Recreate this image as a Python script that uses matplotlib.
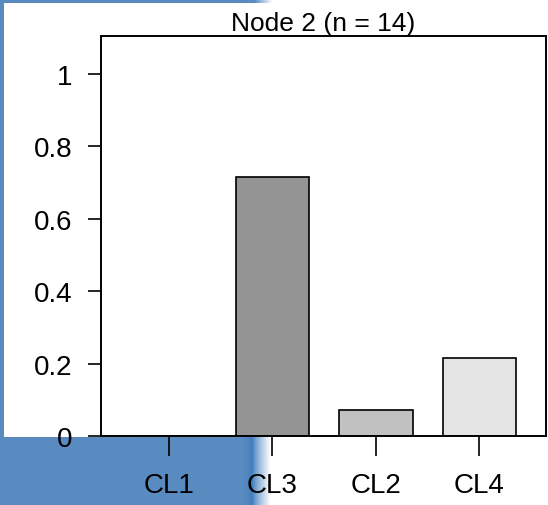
"""
Terminal node bar chart: class proportions in node 2 of a classification tree.
"""

import numpy as np
import matplotlib
matplotlib.use("Agg")
import matplotlib.pyplot as plt
import matplotlib.transforms as mtransforms


# Class proportions in the node (10, 1, 3 of 14 observations)
classes = ["CL1", "CL3", "CL2", "CL4"]
proportions = [0 / 14, 10 / 14, 1 / 14, 3 / 14]
bar_colors = ["#4d4d4d", "#949494", "#c1c1c1", "#e4e4e4"]
y_ticks = [0, 0.2, 0.4, 0.6, 0.8, 1]
y_tick_labels = ["0", "0.2", "0.4", "0.6", "0.8", "1"]
node_title = "Node 2 (n = 14)"

W, H = 548, 505


def slide_background():
    """Blue slide border showing around the pasted plot."""
    img = np.ones((H, W, 3))
    blue = np.array([0x5a, 0x8b, 0xc0]) / 255.0
    deep = np.array([0x42, 0x7f, 0xbd]) / 255.0
    white = np.ones(3)

    # left strip
    img[:437, :4] = blue

    # thin strip along the top, fading out to the right
    img[:3, :255] = blue
    for i, x in enumerate(range(255, 272)):
        t = (i + 1) / 18
        img[:3, x] = blue * (1 - t) + white * t

    # lower band under the axis
    img[437:, :242] = blue
    for i, x in enumerate(range(242, 253)):
        t = i / 11
        img[437:, x] = blue * (1 - t) + deep * t
    for i, x in enumerate(range(253, 270)):
        t = ((i + 1) / 18) ** 0.8
        img[437:, x] = deep * (1 - t) + white * t
    return img


def create_figure(path):
    plt.rcParams["font.family"] = ["Liberation Sans", "DejaVu Sans"]
    fig = plt.figure(figsize=(W / 100, H / 100), dpi=100, facecolor="white")

    bg = fig.add_axes([0, 0, 1, 1], zorder=-1)
    bg.imshow(slide_background(), extent=(0, W, H, 0), aspect="auto",
              interpolation="nearest")
    bg.axis("off")

    left, right, top, bottom = 101, 546, 36, 436
    ax = fig.add_axes([left / W, (H - bottom) / H, (right - left) / W, (bottom - top) / H])
    ax.set_facecolor("white")

    x = np.arange(len(classes))
    ax.bar(x, proportions, width=0.71, color=bar_colors, edgecolor="black",
           linewidth=1.2, zorder=2)

    ax.set_xlim(-0.658, 3.646)
    ax.set_ylim(0, 1.105)

    ax.set_yticks(y_ticks)
    ax.set_yticklabels(y_tick_labels)
    ax.set_xticks(x)
    ax.set_xticklabels(classes)

    ax.tick_params(axis="y", length=9.5, width=1.2, pad=11, labelsize=20)
    ax.tick_params(axis="x", length=14.5, width=1.2, pad=12, labelsize=20)

    # y labels sit a few pixels below their ticks
    shift = mtransforms.ScaledTranslation(0, -4 / 100, fig.dpi_scale_trans)
    for lab in ax.get_yticklabels():
        lab.set_verticalalignment("center")
        lab.set_transform(lab.get_transform() + shift)

    for side in ax.spines.values():
        side.set_linewidth(1.4)

    ax.set_title(node_title, fontsize=19, pad=1)

    fig.savefig(path, dpi=100, facecolor="white")
    plt.close(fig)


if __name__ == "__main__":
    create_figure("out.png")
